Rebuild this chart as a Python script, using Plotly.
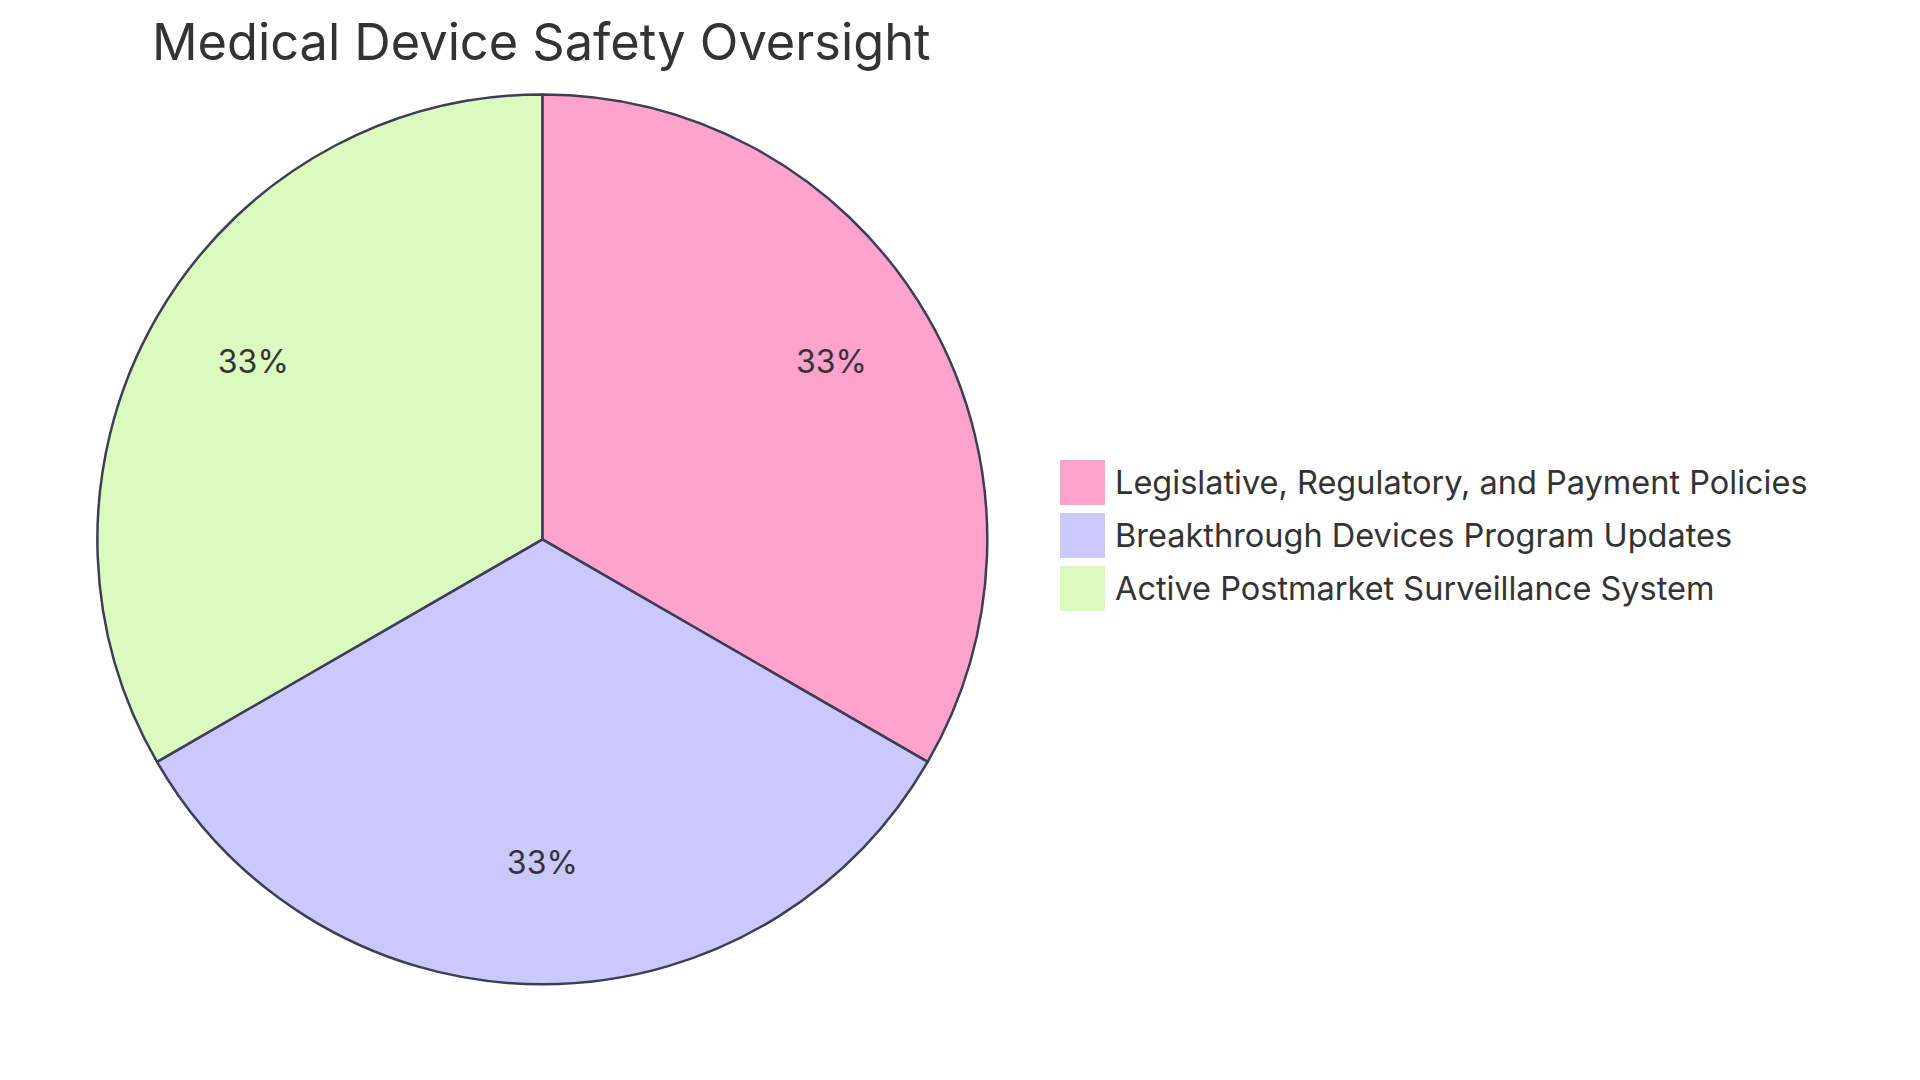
import plotly.graph_objects as go

# Slices, clockwise from 12 o'clock
labels = [
    "Legislative, Regulatory, and Payment Policies",
    "Breakthrough Devices Program Updates",
    "Active Postmarket Surveillance System",
]
values = [1, 1, 1]
colors = ["#FFA3CD", "#C9C9FE", "#DAFABE"]

W, H = 1920, 1080
font = "Inter"
ink = "#333333"
dom = dict(x=[0.0463, 0.5103], y=[0.096, 0.920])
# percent labels sit a little above the slice centroids in the original
dom_txt = dict(x=dom["x"], y=[dom["y"][0] + 0.0102, dom["y"][1] + 0.0102])

fig = go.Figure()

# the pie itself
fig.add_trace(
    go.Pie(
        labels=labels,
        values=values,
        sort=False,
        direction="clockwise",
        rotation=0,
        marker=dict(colors=colors, line=dict(color="#3D3D58", width=2.5)),
        textinfo="none",
        hoverinfo="label+percent",
        showlegend=False,
        domain=dom,
    )
)

# transparent ring on top, only to push the percent labels outwards
fig.add_trace(
    go.Pie(
        labels=labels,
        values=values,
        sort=False,
        direction="clockwise",
        rotation=0,
        hole=0.5,
        marker=dict(colors=["rgba(0,0,0,0)"] * len(labels), line=dict(width=0)),
        texttemplate="%{percent:.0%}",
        textposition="inside",
        insidetextorientation="horizontal",
        textfont=dict(family=font, size=32, color=ink),
        hoverinfo="skip",
        showlegend=False,
        domain=dom_txt,
    )
)

# legend: big square swatches like the original
lx, ly, sw, pitch = 1052, 452, 45, 53
for i, (lab, col) in enumerate(zip(labels, colors)):
    top = ly + i * pitch
    fig.add_shape(
        type="rect",
        xref="paper", yref="paper",
        x0=lx / W, x1=(lx + sw) / W,
        y0=1 - (top + sw) / H, y1=1 - top / H,
        fillcolor=col,
        line=dict(width=0),
    )
    fig.add_annotation(
        xref="paper", yref="paper",
        x=(lx + sw + 8) / W, y=1 - (top + sw / 2) / H,
        xanchor="left", yanchor="middle",
        text=lab,
        showarrow=False,
        font=dict(family=font, size=32.5, color=ink),
    )

fig.update_layout(
    width=W,
    height=H,
    margin=dict(l=0, r=0, t=0, b=0),
    paper_bgcolor="white",
    font=dict(family=font, color=ink),
    title=dict(
        text="Medical Device Safety Oversight",
        x=0.075,
        xanchor="left",
        y=0.968,
        yanchor="middle",
        font=dict(family=font, size=50.5, color=ink),
    ),
)

fig.write_html("out.html")
